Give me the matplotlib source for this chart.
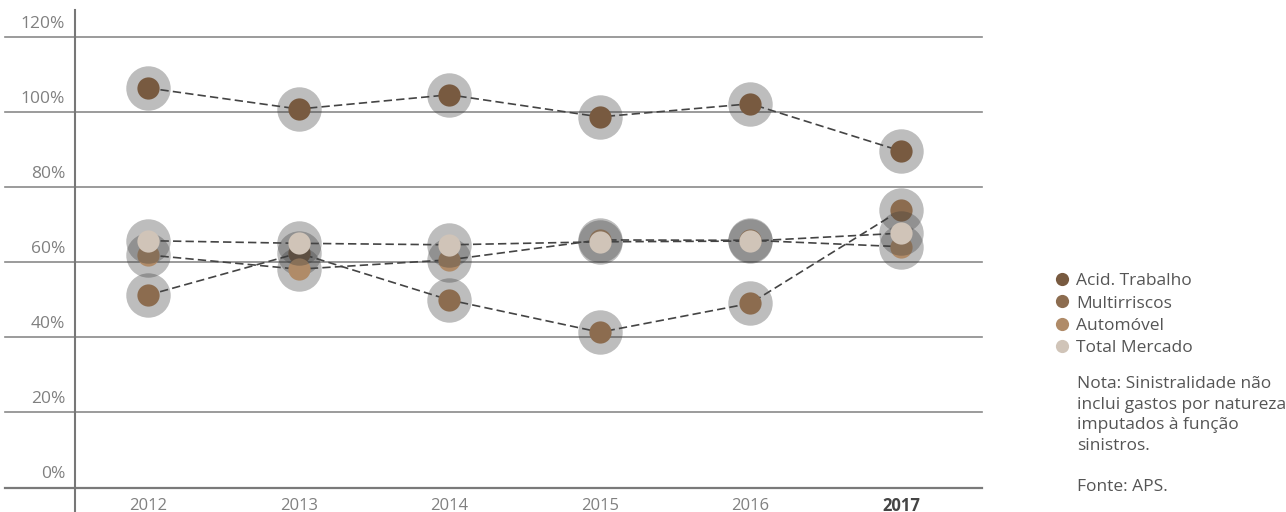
import matplotlib
matplotlib.use("Agg")
import matplotlib.pyplot as plt
from matplotlib.lines import Line2D

plt.rcParams['font.family'] = ['Open Sans', 'DejaVu Sans']

# sinistralidade por ramo (%)
anos = ["2012", "2013", "2014", "2015", "2016", "2017"]
acid_trabalho = [106.5, 100.9, 104.7, 98.8, 102.3, 89.7]
multirriscos = [51.3, 62.5, 50.0, 41.4, 49.1, 74.0]
automovel = [62.0, 58.2, 60.7, 66.0, 65.9, 64.2]
total_mercado = [65.8, 65.1, 64.7, 65.5, 65.7, 67.8]

series = [
    ("Acid. Trabalho", acid_trabalho, "#785a40"),
    ("Multirriscos", multirriscos, "#8c6c4f"),
    ("Automóvel", automovel, "#b08b68"),
    ("Total Mercado", total_mercado, "#d0c4b8"),
]
yticks = [0, 20, 40, 60, 80, 100, 120]

W, H = 1286, 512
fig = plt.figure(figsize=(W / 100, H / 100), dpi=100)
ax = fig.add_axes([75 / W, 0, (982 - 75) / W, 502 / H])

ax.set_xlim(-0.485, 5.538)
ax.set_ylim(-6.53, 127.3)

x = list(range(len(anos)))
for i, (nome, vals, cor) in enumerate(series):
    z = 3 + 3 * i
    ax.plot(x, vals, ls="none", marker="o", ms=32, mfc="#393939", mec="none",
            alpha=0.33, zorder=z)
    ax.plot(x, vals, color="#444444", lw=1.2, ls=(0, (5, 2.5)), zorder=z + 1)
    ax.plot(x, vals, ls="none", marker="o", ms=16, mfc=cor, mec="none", zorder=z + 2)

# linhas de grelha, prolongadas para a esquerda do eixo
for t in yticks:
    ax.axhline(t, xmin=-0.077, xmax=1, color="#7a7a7a" if t == 0 else "#8a8a8a",
               lw=1.6 if t == 0 else 1.2, clip_on=False, zorder=1)
    ax.text(-0.011, t + 3.6, f"{t}%", transform=ax.get_yaxis_transform(),
            ha="right", va="center", fontsize=12.5, color="#808080")

for i, ano in enumerate(anos):
    ultimo = i == len(anos) - 1
    ax.text(i, -4.8, ano, ha="center", va="center", fontsize=12,
            color="#444444" if ultimo else "#808080",
            fontweight="bold" if ultimo else "normal")

ax.set_xticks([])
ax.set_yticks([])
for s in ["top", "right", "bottom"]:
    ax.spines[s].set_visible(False)
ax.spines["left"].set_color("#777777")
ax.spines["left"].set_linewidth(1.5)

handles = [Line2D([], [], ls="none", marker="o", ms=9.5, mfc=c, mec="none")
           for _, _, c in series]
fig.legend(handles, [s[0] for s in series], loc="upper left",
           bbox_to_anchor=(1055 / W, 1 - 273 / H), frameon=False,
           fontsize=12.5, labelcolor="#555555", handlelength=0.8,
           handletextpad=0.4, labelspacing=0.36, borderpad=0, borderaxespad=0)

fig.text(1077 / W, 1 - 376 / H,
         "Nota: Sinistralidade não\ninclui gastos por natureza\nimputados à função\nsinistros.",
         ha="left", va="top", fontsize=12.5, color="#555555", linespacing=1.38)
fig.text(1077 / W, 1 - 487 / H, "Fonte: APS.", ha="left", va="center",
         fontsize=12.5, color="#555555")

fig.savefig("out.png", dpi=100)
